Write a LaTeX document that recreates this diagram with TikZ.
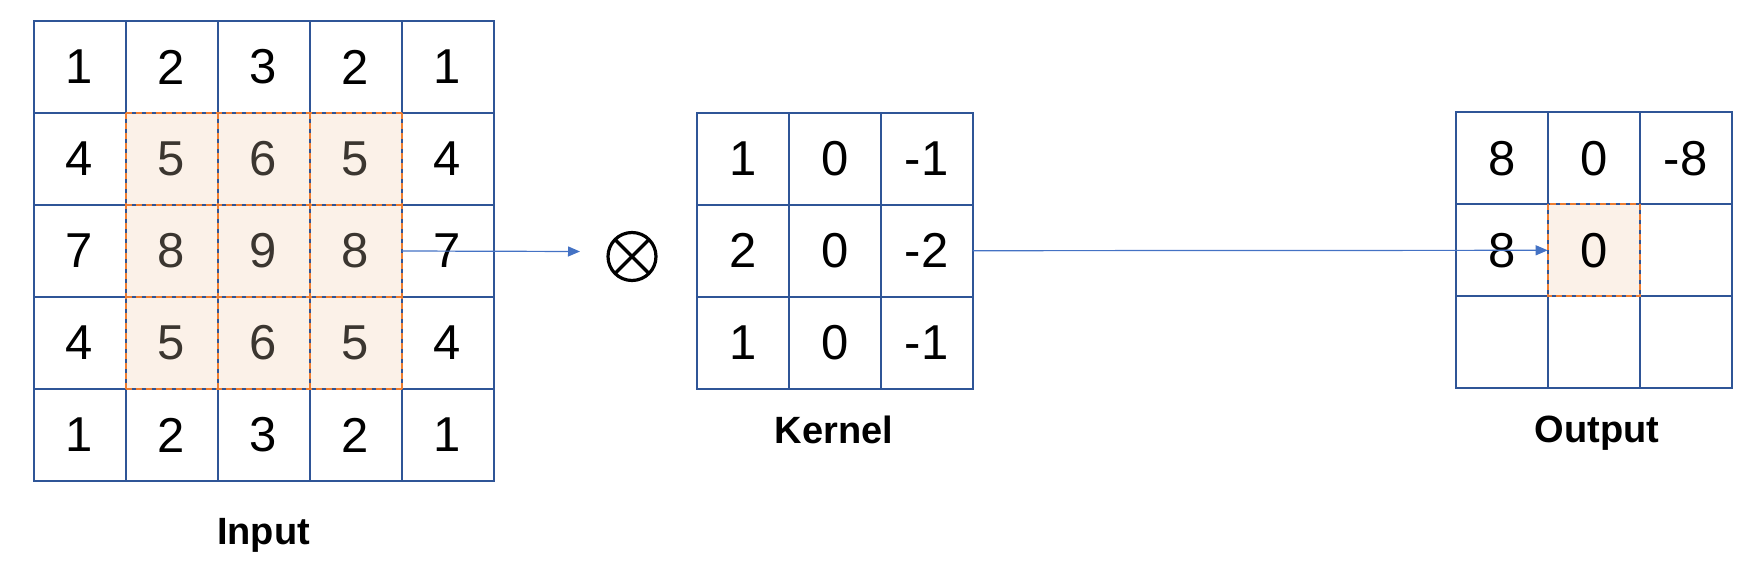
\documentclass[tikz,border=0pt]{standalone}
\usepackage{fontspec}
\setmainfont{Liberation Sans}
\usetikzlibrary{arrows.meta}
\definecolor{gridblue}{HTML}{2F5597}
\definecolor{hlfill}{HTML}{FBF1E8}
\definecolor{hlorange}{HTML}{ED7D31}
\definecolor{hltext}{HTML}{3B3630}
\definecolor{arrowblue}{HTML}{4472C4}
\begin{document}
\begin{tikzpicture}[x=0.5pt,y=-0.5pt,
  cell/.style={draw=gridblue, line width=1pt, minimum size=46pt, inner sep=0pt, outer sep=0pt,
    font=\fontsize{24.5}{28}\selectfont},
  hcell/.style={cell, fill=hlfill, text=hltext},
  ocell/.style={cell, fill=hlfill},
  hl/.style={draw=hlorange, dash pattern=on 3pt off 2pt, line width=1pt},
  conn/.style={draw=arrowblue, line width=0.6pt, -{Triangle[length=6pt,width=5pt]}},
  lbl/.style={font=\bfseries\fontsize{19}{22}\selectfont},
  opsym/.style={circle, draw=black, line width=1.6pt, minimum size=24pt, inner sep=0pt, outer sep=0pt}]
\useasboundingbox (0,0) rectangle (1756,577);

% Input grid
\foreach \v/\s [count=\c] in {1/cell,2/cell,3/cell,2/cell,1/cell}
  \node[\s] (in-1-\c) at ({79.5+92*(\c-1)},67) {\v};
\foreach \v/\s [count=\c] in {4/cell,5/hcell,6/hcell,5/hcell,4/cell}
  \node[\s] (in-2-\c) at ({79.5+92*(\c-1)},159) {\v};
\foreach \v/\s [count=\c] in {7/cell,8/hcell,9/hcell,8/hcell,7/cell}
  \node[\s] (in-3-\c) at ({79.5+92*(\c-1)},251) {\v};
\foreach \v/\s [count=\c] in {4/cell,5/hcell,6/hcell,5/hcell,4/cell}
  \node[\s] (in-4-\c) at ({79.5+92*(\c-1)},343) {\v};
\foreach \v/\s [count=\c] in {1/cell,2/cell,3/cell,2/cell,1/cell}
  \node[\s] (in-5-\c) at ({79.5+92*(\c-1)},435) {\v};
% dashed highlight grid lines
\foreach \r in {2,3,4}
  \draw[hl] (in-\r-2.north west) -- (in-\r-4.north east);
\draw[hl] (in-4-2.south west) -- (in-4-4.south east);
\foreach \c in {2,3,4}
  \draw[hl] (in-2-\c.north west) -- (in-4-\c.south west);
\draw[hl] (in-2-4.north east) -- (in-4-4.south east);
\node[lbl] (lin) at (263.5,535) {Input};

% Operator
\node[opsym] (op) at (632,256.5) {};
\draw[line width=1.6pt] (op.north west) -- (op.south east);
\draw[line width=1.6pt] (op.north east) -- (op.south west);

% Kernel grid
\foreach \v [count=\c] in {1,0,-1}
  \node[cell] (k-1-\c) at ({742.7+92*(\c-1)},158.7) {\v};
\foreach \v [count=\c] in {2,0,-2}
  \node[cell] (k-2-\c) at ({742.7+92*(\c-1)},250.7) {\v};
\foreach \v [count=\c] in {1,0,-1}
  \node[cell] (k-3-\c) at ({742.7+92*(\c-1)},342.7) {\v};
\node[lbl] (lker) at (834,430) {Kernel};

% Output grid
\foreach \v/\s [count=\c] in {8/cell,0/cell,-8/cell}
  \node[\s] (out-1-\c) at ({1501.7+92*(\c-1)},158.3) {\v};
\foreach \v/\s [count=\c] in {8/cell,0/ocell,{}/cell}
  \node[\s] (out-2-\c) at ({1501.7+92*(\c-1)},250.3) {\v};
\foreach \v/\s [count=\c] in {{}/cell,{}/cell,{}/cell}
  \node[\s] (out-3-\c) at ({1501.7+92*(\c-1)},342.3) {\v};
\draw[hl] (out-2-2.north west) rectangle (out-2-2.south east);
\node[lbl] (lout) at (1597,433) {Output};

% Connectors
\coordinate (a1) at (580,251.5);
\draw[conn] (in-3-4.east) -- (a1);
\draw[conn] (k-2-3.east) -- (out-2-2.west);
\end{tikzpicture}
\end{document}
